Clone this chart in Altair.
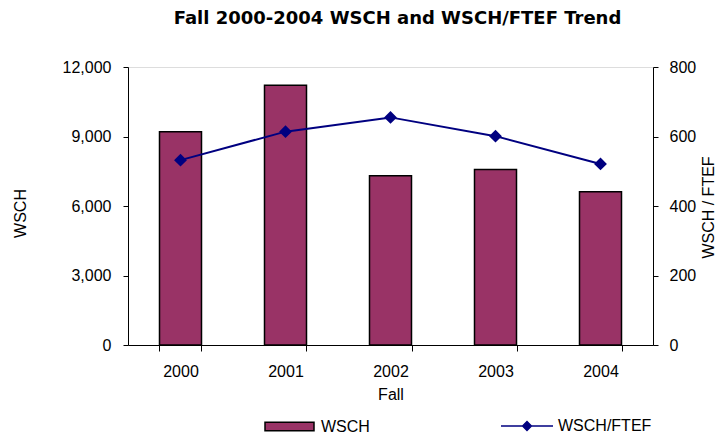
import altair as alt
import pandas as pd

years = ["2000", "2001", "2002", "2003", "2004"]
wsch = [9200, 11210, 7310, 7580, 6620]
wsch_per_ftef = [532, 614, 655, 601, 521]
left_ticks = [0, 3000, 6000, 9000, 12000]
right_ticks = [0, 200, 400, 600, 800]

df = pd.DataFrame({
    "Fall": years,
    "WSCH": wsch,
    "Ratio": wsch_per_ftef,
    "s1": ["WSCH"] * len(years),
    "s2": ["WSCH/FTEF"] * len(years),
})

FONT = "Liberation Sans"
BAR_COLOR = "#993366"
LINE_COLOR = "#000080"

x_enc = alt.X(
    "Fall:N",
    title="Fall",
    scale=alt.Scale(paddingInner=0.6, paddingOuter=0.3),
    axis=alt.Axis(
        labelAngle=0, tickBand="extent", tickSize=6, labelPadding=12,
        titlePadding=7, domainColor="black", tickColor="black",
        labelFont=FONT, labelFontSize=16, titleFont=FONT, titleFontSize=16,
        titleFontWeight="normal", labelColor="black", titleColor="black",
    ),
)

bars = alt.Chart(df).mark_bar(stroke="black", strokeWidth=1.5).encode(
    x=x_enc,
    y=alt.Y(
        "WSCH:Q",
        scale=alt.Scale(domain=[0, 12000]),
        axis=alt.Axis(
            values=left_ticks, format=",.0f", grid=False, tickSize=5, labelPadding=12,
            title="WSCH", titleAngle=270, titleX=-108, titleY=146,
            titleAlign="center", titleBaseline="middle",
            domainColor="black", tickColor="black",
            labelFont=FONT, labelFontSize=16, titleFont=FONT, titleFontSize=16,
            titleFontWeight="normal", labelColor="black", titleColor="black",
        ),
    ),
    fill=alt.Fill(
        "s1:N",
        scale=alt.Scale(domain=["WSCH"], range=[BAR_COLOR]),
        legend=alt.Legend(
            title=None, orient="none", legendX=136, legendY=334, padding=0,
            symbolType="M-1,-0.17L1,-0.17L1,0.17L-1,0.17Z", symbolSize=2401,
            symbolStrokeColor="black", symbolStrokeWidth=1.5, symbolFillColor=BAR_COLOR,
            labelFont=FONT, labelFontSize=16, labelColor="black", labelOffset=6,
        ),
    ),
)

line = alt.Chart(df).mark_line(
    color=LINE_COLOR, strokeWidth=2,
    point=alt.OverlayMarkDef(shape="diamond", size=100, filled=True, color=LINE_COLOR),
).encode(
    x=alt.X("Fall:N"),
    y=alt.Y(
        "Ratio:Q",
        scale=alt.Scale(domain=[0, 800]),
        axis=alt.Axis(
            orient="right", values=right_ticks, grid=False, tickSize=5, labelPadding=11,
            title="WSCH / FTEF", titleAngle=270, titleX=55, titleY=140,
            titleAlign="center", titleBaseline="middle",
            domainColor="black", tickColor="black",
            labelFont=FONT, labelFontSize=16, titleFont=FONT, titleFontSize=16,
            titleFontWeight="normal", labelColor="black", titleColor="black",
        ),
    ),
    stroke=alt.Stroke(
        "s2:N",
        scale=alt.Scale(domain=["WSCH/FTEF"], range=[LINE_COLOR]),
        legend=alt.Legend(
            title=None, orient="none", legendX=372, legendY=332, padding=0,
            symbolType="M-1,0L-0.17,0L0,-0.17L0.17,0L1,0L0.17,0L0,0.17L-0.17,0Z",
            symbolSize=2704, symbolStrokeColor=LINE_COLOR, symbolFillColor=LINE_COLOR,
            symbolStrokeWidth=1.5,
            labelFont=FONT, labelFontSize=16, labelColor="black", labelOffset=4,
        ),
    ),
)

chart = alt.layer(bars, line).resolve_scale(
    y="independent", fill="independent", stroke="independent"
).resolve_legend(fill="independent", stroke="independent").properties(
    width=525,
    height=278,
    autosize=alt.AutoSizeParams(type="none"),
    padding={"left": 120, "top": 59, "right": 62, "bottom": 89},
    title=alt.TitleParams(
        "Fall 2000-2004 WSCH and WSCH/FTEF Trend",
        font="DejaVu Sans", fontSize=18, fontWeight="bold", color="black",
        anchor="middle", dx=7, offset=31,
    ),
).configure_view(stroke="black", strokeWidth=1).configure(background="white")

chart.save("out.html", embed_options={"renderer": "svg", "actions": False})
